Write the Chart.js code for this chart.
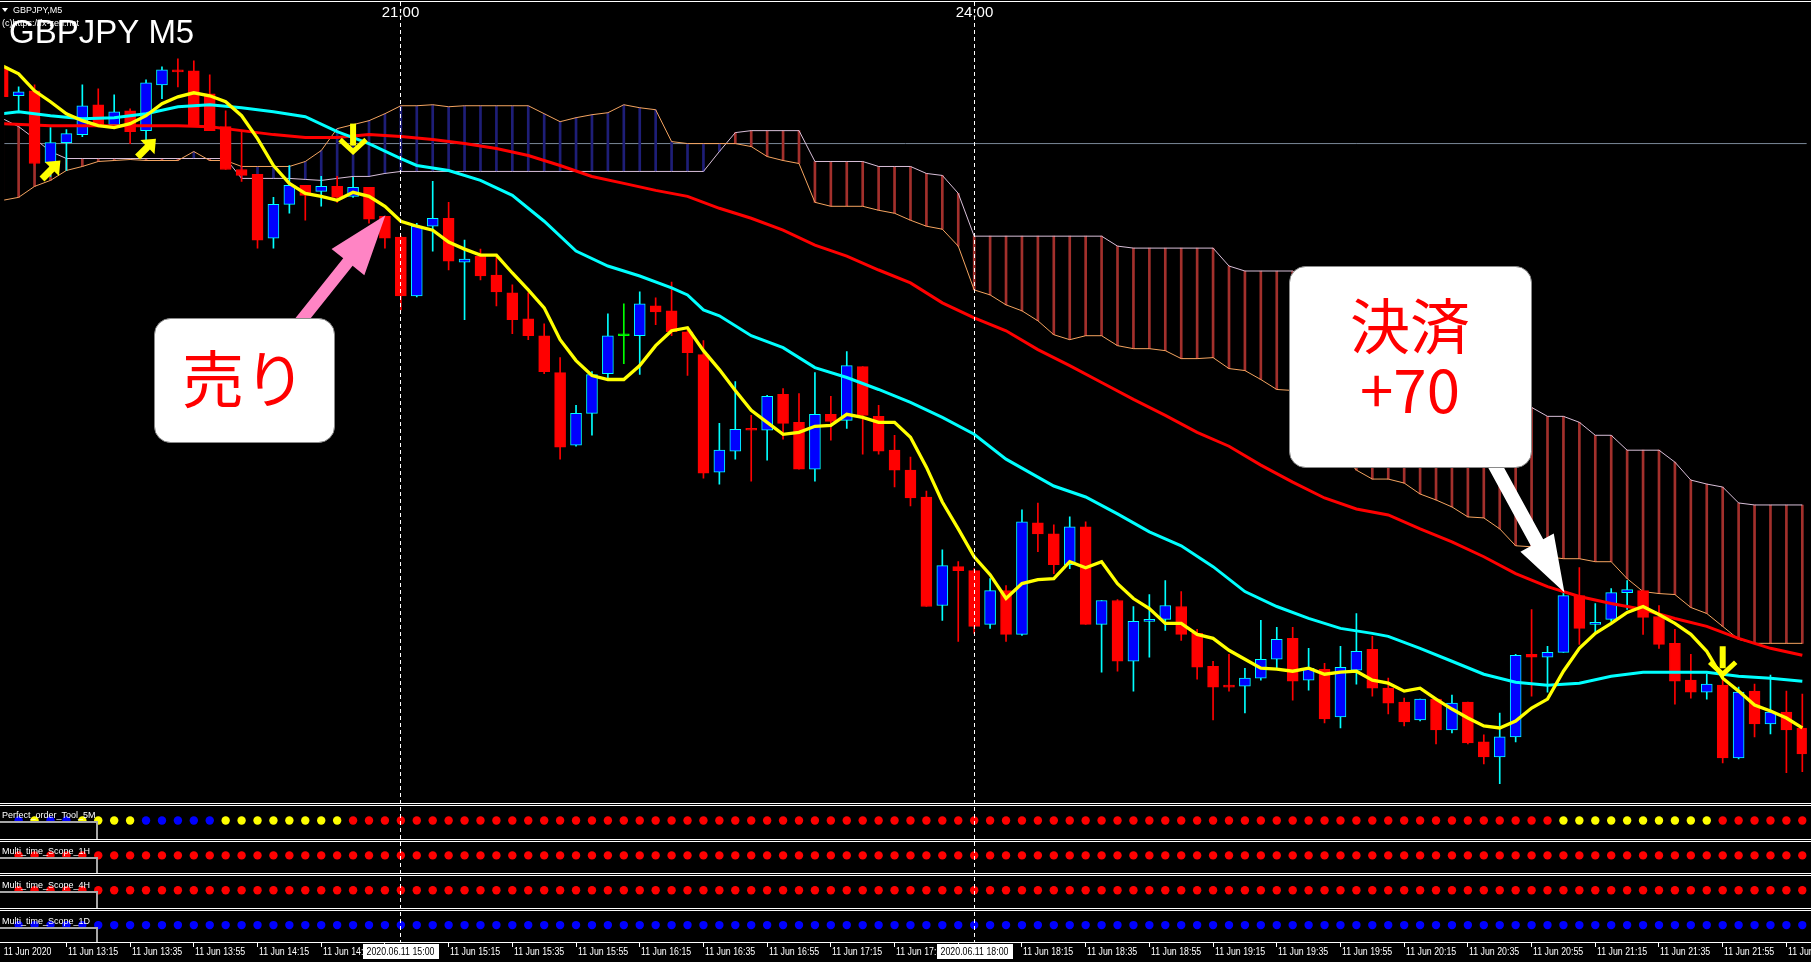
<!DOCTYPE html>
<html><head><meta charset="utf-8">
<script src="https://cdn.jsdelivr.net/npm/chart.js@4.4.1/dist/chart.umd.min.js"></script>
<style>html,body{margin:0;padding:0;background:#000;overflow:hidden}canvas{display:block}</style>
</head><body>
<canvas id="c" width="1811" height="962"></canvas>
<script>
// ---------- DATA (GBPJPY M5, bars indexed from -1 = 12:55) ----------
const FIRST_BAR = -1;
const opens = [136.874,136.816,136.826,136.682,136.722,136.738,136.798,136.758,136.786,136.746,
 136.838,136.868,136.866,136.820,136.754,136.668,136.658,136.530,136.598,136.636,
 136.624,136.634,136.614,136.632,136.574,136.532,136.414,136.554,136.570,136.482,
 136.494,136.456,136.420,136.368,136.334,136.260,136.114,136.178,136.258,136.334,
 136.334,136.394,136.384,136.342,136.296,136.060,136.102,136.146,136.144,136.216,
 136.160,136.066,136.176,136.164,136.272,136.172,136.104,136.064,136.010,135.792,
 135.870,135.862,135.754,135.822,135.734,135.958,135.936,135.874,135.950,135.754,
 135.802,135.680,135.760,135.764,135.790,135.736,135.670,135.630,135.630,135.646,
 135.684,135.726,135.642,135.664,135.568,135.662,135.704,135.626,135.598,135.562,
 135.604,135.542,135.598,135.518,135.488,135.528,135.694,135.688,135.698,135.812,
 135.754,135.764,135.818,135.822,135.770,135.716,135.642,135.618,135.632,135.486,
 135.620,135.554,135.578,135.546];
const highs = [136.880,136.834,136.838,136.752,136.748,136.838,136.830,136.818,136.790,136.848,
 136.874,136.890,136.886,136.858,136.786,136.746,136.658,136.612,136.676,136.636,
 136.654,136.654,136.652,136.632,136.574,136.534,136.560,136.644,136.602,136.526,
 136.508,136.494,136.436,136.420,136.358,136.290,136.194,136.262,136.378,136.398,
 136.422,136.410,136.442,136.350,136.324,136.158,136.242,136.174,136.214,136.228,
 136.218,136.260,136.212,136.302,136.272,136.194,136.134,136.090,136.022,135.904,
 135.880,135.866,135.846,135.832,135.984,135.998,135.954,135.970,135.960,135.802,
 135.804,135.790,135.814,135.842,135.820,135.744,135.680,135.694,135.666,135.762,
 135.748,135.748,135.706,135.676,135.710,135.776,135.730,135.646,135.606,135.604,
 135.606,135.612,135.598,135.532,135.576,135.694,135.784,135.710,135.820,135.868,
 135.796,135.826,135.842,135.822,135.792,135.744,135.694,135.654,135.642,135.628,
 135.634,135.652,135.620,135.614];
const lows = [136.808,136.786,136.676,136.654,136.666,136.734,136.754,136.754,136.720,136.726,
 136.810,136.834,136.756,136.746,136.668,136.644,136.510,136.510,136.580,136.566,
 136.594,136.602,136.612,136.560,136.510,136.386,136.412,136.504,136.466,136.366,
 136.446,136.394,136.338,136.326,136.258,136.086,136.112,136.134,136.248,136.278,
 136.256,136.356,136.334,136.254,136.048,136.036,136.086,136.042,136.084,136.126,
 136.066,136.042,136.124,136.148,136.096,136.096,136.030,135.992,135.790,135.762,
 135.720,135.736,135.746,135.720,135.732,135.900,135.856,135.866,135.754,135.658,
 135.660,135.620,135.688,135.742,135.722,135.644,135.562,135.620,135.576,135.642,
 135.666,135.602,135.622,135.556,135.546,135.634,135.610,135.574,135.550,135.560,
 135.514,135.536,135.514,135.474,135.434,135.518,135.610,135.618,135.698,135.714,
 135.736,135.760,135.784,135.734,135.706,135.594,135.606,135.604,135.476,135.484,
 135.528,135.534,135.456,135.458];
const closes = [136.814,136.824,136.680,136.722,136.740,136.796,136.756,136.784,136.744,136.842,
 136.868,136.864,136.756,136.746,136.668,136.656,136.526,136.598,136.636,136.616,
 136.634,136.612,136.632,136.568,136.530,136.414,136.554,136.570,136.484,136.488,
 136.454,136.422,136.366,136.334,136.262,136.110,136.178,136.256,136.334,136.334,
 136.398,136.382,136.342,136.300,136.058,136.104,136.146,136.144,136.212,136.158,
 136.066,136.176,136.162,136.274,136.174,136.102,136.064,136.008,135.790,135.872,
 135.862,135.750,135.822,135.734,135.960,135.936,135.874,135.950,135.754,135.802,
 135.680,135.760,135.761,135.792,135.734,135.668,135.628,135.628,135.646,135.684,
 135.724,135.640,135.666,135.564,135.668,135.700,135.626,135.596,135.558,135.604,
 135.542,135.596,135.516,135.488,135.528,135.692,135.688,135.698,135.812,135.746,
 135.758,135.818,135.824,135.768,135.714,135.640,135.618,135.634,135.486,135.618,
 135.554,135.578,135.542,135.494];

// fast MA (yellow), every bar
const fastMA = [136.876,136.860,136.826,136.804,136.780,136.766,136.756,136.752,136.760,136.776,
 136.800,136.814,136.822,136.816,136.804,136.776,136.730,136.676,136.640,136.620,
 136.614,136.606,136.622,136.614,136.594,136.564,136.554,136.546,136.522,136.508,
 136.496,136.496,136.460,136.426,136.390,136.326,136.284,136.254,136.246,136.246,
 136.274,136.314,136.344,136.350,136.304,136.266,136.224,136.184,136.160,136.136,
 136.140,136.152,136.154,136.176,136.170,136.160,136.160,136.130,136.070,136.000,
 135.946,135.890,135.854,135.806,135.836,135.844,135.846,135.880,135.868,135.880,
 135.836,135.806,135.786,135.756,135.756,135.734,135.726,135.702,135.684,135.666,
 135.664,135.660,135.666,135.654,135.658,135.660,135.642,135.636,135.620,135.626,
 135.604,135.584,135.566,135.550,135.546,135.560,135.586,135.604,135.660,135.706,
 135.736,135.756,135.778,135.790,135.774,135.756,135.734,135.700,135.646,135.620,
 135.592,135.580,135.566,135.546];

// middle MA (cyan), read at these bars
const midMABars = [-1,0,2,4,6,8,10,12,14,16,18,20,22,24,25,27,29,31,33,35,37,39,41,42,43,44,46,48,50,52,
 54,56,58,60,62,64,65,67,69,71,73,75,77,79,81,83,85,86,88,90,92,94,96,98,100,102,104,106,108,110,112];
const midMA = [136.780,136.784,136.776,136.770,136.772,136.780,136.794,136.798,136.792,136.784,
 136.774,136.744,136.720,136.690,136.676,136.666,136.646,136.616,136.564,136.504,
 136.474,136.454,136.430,136.416,136.386,136.374,136.334,136.310,136.270,136.250,
 136.226,136.200,136.170,136.136,136.086,136.050,136.032,136.010,135.976,135.940,
 135.912,135.870,135.820,135.790,135.766,135.746,135.736,135.730,135.706,135.680,
 135.654,135.638,135.632,135.636,135.650,135.658,135.658,135.658,135.650,135.646,135.640];

// slow MA (red), read at these bars
const slowMABars = [-1,2,6,10,12,14,16,18,20,22,24,26,28,30,32,34,36,38,40,42,44,46,48,50,52,54,56,58,60,62,
 64,66,68,70,72,74,76,78,80,82,84,86,88,90,92,94,96,98,100,102,104,106,108,110,112];
const slowMA = [136.760,136.756,136.756,136.756,136.754,136.746,136.738,136.732,136.732,136.738,
 136.734,136.728,136.720,136.710,136.696,136.676,136.654,136.640,136.626,136.614,
 136.590,136.570,136.546,136.516,136.494,136.466,136.440,136.400,136.370,136.344,
 136.306,136.274,136.240,136.206,136.174,136.140,136.112,136.074,136.040,136.008,
 135.986,135.974,135.946,135.920,135.890,135.856,135.830,135.810,135.796,135.784,
 135.766,135.750,135.726,135.706,135.692];

// Ichimoku cloud spans, every bar
const spanA = [136.606,136.612,136.634,136.646,136.666,136.674,136.684,136.686,136.688,136.686,
 136.686,136.686,136.704,136.686,136.686,136.674,136.674,136.674,136.674,136.684,
 136.706,136.750,136.758,136.766,136.780,136.796,136.796,136.798,136.794,136.796,
 136.796,136.796,136.796,136.796,136.780,136.764,136.772,136.778,136.782,136.798,
 136.792,136.788,136.724,136.720,136.720,136.720,136.720,136.714,136.694,136.686,
 136.680,136.602,136.594,136.594,136.594,136.586,136.580,136.566,136.554,136.548,
 136.514,136.426,136.416,136.396,136.384,136.364,136.336,136.326,136.334,136.334,
 136.314,136.308,136.308,136.304,136.288,136.288,136.290,136.268,136.264,136.246,
 136.226,136.224,136.180,136.140,136.100,136.064,136.046,136.046,136.038,136.016,
 136.004,135.990,135.970,135.968,135.946,135.912,135.910,135.890,135.886,135.886,
 135.880,135.880,135.846,135.820,135.816,135.814,135.788,135.776,135.750,135.724,
 135.716,135.716,135.716,135.716];
const spanB = [136.770,136.754,136.730,136.704,136.690,136.690,136.690,136.690,136.690,136.690,
 136.690,136.690,136.690,136.690,136.690,136.650,136.650,136.650,136.650,136.648,
 136.646,136.650,136.654,136.654,136.660,136.664,136.664,136.664,136.664,136.664,
 136.664,136.664,136.664,136.664,136.664,136.664,136.664,136.664,136.664,136.664,
 136.664,136.664,136.664,136.664,136.664,136.704,136.742,136.746,136.746,136.746,
 136.746,136.684,136.684,136.684,136.684,136.674,136.674,136.674,136.660,136.656,
 136.620,136.534,136.534,136.534,136.534,136.534,136.534,136.534,136.534,136.534,
 136.514,136.510,136.510,136.510,136.510,136.510,136.510,136.474,136.464,136.464,
 136.464,136.464,136.440,136.420,136.380,136.340,136.320,136.300,136.280,136.260,
 136.240,136.230,136.220,136.210,136.200,136.190,136.190,136.172,136.172,136.160,
 136.134,136.134,136.104,136.104,136.104,136.080,136.044,136.036,136.030,135.998,
 135.994,135.994,135.994,135.994];

const hLinePrice = 136.720;
const vLineBars = [24, 60];
const vLineTopLabels = ['21:00', '24:00'];
const vLineAxisLabels = ['2020.06.11 15:00', '2020.06.11 18:00'];

const buySignals = [{bar: 2, price: 136.666}, {bar: 8, price: 136.710}];
const sellSignals = [{bar: 21, price: 136.728}, {bar: 107, price: 135.678}];

const timeTickBars = [3,7,11,15,19,23,27,31,35,39,43,47,51,55,59,63,67,71,75,79,83,87,91,95,99,103,107,111];
const timeTickLabels = ['11 Jun 13:15','11 Jun 13:35','11 Jun 13:55','11 Jun 14:15','11 Jun 14:35','11 Jun 14:55',
 '11 Jun 15:15','11 Jun 15:35','11 Jun 15:55','11 Jun 16:15','11 Jun 16:35','11 Jun 16:55','11 Jun 17:15',
 '11 Jun 17:35','11 Jun 17:55','11 Jun 18:15','11 Jun 18:35','11 Jun 18:55','11 Jun 19:15','11 Jun 19:35',
 '11 Jun 19:55','11 Jun 20:15','11 Jun 20:35','11 Jun 20:55','11 Jun 21:15','11 Jun 21:35','11 Jun 21:55','11 Jun 22:15'];
const firstDateLabel = '11 Jun 2020';

// indicator panes: colour states per bar (bars 0..112), run-length as read
const paneNames = ['Perfect_order_Tool_5M','Multi_time_Scope_1H','Multi_time_Scope_4H','Multi_time_Scope_1D'];
const perfectOrderRuns = [['B',1],['Y',1],['B',2],['Y',4],['B',5],['Y',8],['R',76],['Y',10],['R',6]];
const scope1HRuns = [['R',113]];
const scope4HRuns = [['R',113]];
const scope1DRuns = [['B',113]];

// ---------- LAYOUT / STYLE ----------
const W = 1811, H = 962, PLOT_BOTTOM = 942;
const X_MIN = -14.5/16, X_MAX = (W - 14.5)/16;
const PRICE_MAX = 137.000, PRICE_MIN = 137.000 - 0.002*PLOT_BOTTOM;
const ROW_PX = [820, 855, 890, 925];
const IND_MIN = -ROW_PX[0]/35, IND_MAX = IND_MIN + PLOT_BOTTOM/35;
const DOT_COL = {R:'#ff0000', B:'#0000ff', Y:'#ffff00'};

const idx = k => k - FIRST_BAR;
const barsOf = arr => arr.map((_, i) => FIRST_BAR + i);
const bars = barsOf(opens);
const isBull = i => closes[i] > opens[i];
const isBear = i => closes[i] < opens[i];
const bodyFill = bars.map((_, i) => isBull(i) ? '#0000ff' : isBear(i) ? '#ff0000' : '#00ff00');
const bodyEdge = bars.map((_, i) => isBull(i) ? '#00ffff' : isBear(i) ? '#ff0000' : '#00ff00');

function expandRuns(runs) { const out = []; runs.forEach(([c, n]) => { for (let j = 0; j < n; j++) out.push(c); }); return out; }
const paneStates = [perfectOrderRuns, scope1HRuns, scope4HRuns, scope1DRuns].map(expandRuns);

const datasets = [];
datasets.push({type:'line', order: 30, data:[{x:X_MIN,y:hLinePrice},{x:X_MAX,y:hLinePrice}],
  borderColor:'#7a8898', borderWidth:1, pointRadius:0});
datasets.push({type:'bar', order: 25, grouped:false, barThickness:2,
  data: spanA.map((a, i) => ({x: FIRST_BAR + i, y: [a, spanB[i]]})),
  backgroundColor: spanA.map((a, i) => a > spanB[i] ? '#1e1e78' : '#a3302c'), borderWidth:0});
datasets.push({type:'line', order: 24, data: spanA.map((v, i) => ({x: FIRST_BAR + i, y: v})),
  borderColor:'#f4a460', borderWidth:1, pointRadius:0, tension:0});
datasets.push({type:'line', order: 24, data: spanB.map((v, i) => ({x: FIRST_BAR + i, y: v})),
  borderColor:'#d8bfd8', borderWidth:1, pointRadius:0, tension:0});
datasets.push({type:'bar', order: 12, grouped:false, barThickness:1,
  data: bars.map((k, i) => ({x:k, y:[lows[i], highs[i]]})),
  backgroundColor: bodyEdge, borderWidth:0});
datasets.push({type:'bar', order: 11, grouped:false, barThickness:11, minBarLength:2,
  data: bars.map((k, i) => ({x:k, y:[opens[i], closes[i]]})),
  backgroundColor: bodyFill, borderColor: bodyEdge, borderWidth:1, borderSkipped:false});
datasets.push({type:'line', order: 6, data: slowMABars.map((k, i) => ({x:k, y:slowMA[i]})),
  borderColor:'#ff0000', borderWidth:3, pointRadius:0, tension:0});
datasets.push({type:'line', order: 5, data: midMABars.map((k, i) => ({x:k, y:midMA[i]})),
  borderColor:'#00ffff', borderWidth:3, pointRadius:0, tension:0});
datasets.push({type:'line', order: 4, data: fastMA.map((v, i) => ({x: FIRST_BAR + i, y: v})),
  borderColor:'#ffff00', borderWidth:3.3, pointRadius:0, tension:0});
paneStates.forEach((st, row) => {
  datasets.push({type:'line', order: 1, yAxisID:'yInd', showLine:false,
    data: st.map((c, k) => ({x:k, y:row})),
    pointRadius:4.2, pointBorderWidth:0, pointBackgroundColor: st.map(c => DOT_COL[c])});
});

function txt(ctx, s, x, y, font, color, align, sx) {
  ctx.save(); ctx.font = font; ctx.fillStyle = color; ctx.textAlign = align || 'left';
  ctx.textBaseline = 'alphabetic'; ctx.translate(x, y); ctx.scale(sx || 1, 1); ctx.fillText(s, 0, 0); ctx.restore();
}
function arrow(ctx, sx, sy, tx, ty, headLen, headHalf, shaftHalf, color) {
  const dx = tx - sx, dy = ty - sy, L = Math.hypot(dx, dy), ux = dx/L, uy = dy/L, px = -uy, py = ux;
  const bx = tx - ux*headLen, by = ty - uy*headLen;
  ctx.beginPath();
  ctx.moveTo(sx + px*shaftHalf, sy + py*shaftHalf);
  ctx.lineTo(bx + px*shaftHalf, by + py*shaftHalf);
  ctx.lineTo(bx + px*headHalf, by + py*headHalf);
  ctx.lineTo(tx, ty);
  ctx.lineTo(bx - px*headHalf, by - py*headHalf);
  ctx.lineTo(bx - px*shaftHalf, by - py*shaftHalf);
  ctx.lineTo(sx - px*shaftHalf, sy - py*shaftHalf);
  ctx.closePath(); ctx.fillStyle = color; ctx.fill();
}
function roundBox(ctx, x, y, w, h, r) {
  ctx.beginPath(); ctx.moveTo(x + r, y); ctx.arcTo(x + w, y, x + w, y + h, r); ctx.arcTo(x + w, y + h, x, y + h, r);
  ctx.arcTo(x, y + h, x, y, r); ctx.arcTo(x, y, x + w, y, r); ctx.closePath();
  ctx.fillStyle = '#ffffff'; ctx.fill(); ctx.strokeStyle = '#8a8a8a'; ctx.lineWidth = 1; ctx.stroke();
}

const overlay = {
  id: 'overlay',
  beforeDraw(chart) { const c = chart.ctx; c.save(); c.fillStyle = '#000'; c.fillRect(0, 0, W, H); c.restore(); },
  afterDatasetsDraw(chart) {
    const ctx = chart.ctx, xs = chart.scales.x, ys = chart.scales.y;
    const px = k => xs.getPixelForValue(k), py = p => ys.getPixelForValue(p);
    ctx.save();
    // frame & separators
    ctx.fillStyle = '#ffffff';
    ctx.fillRect(0, 1, W, 1);
    [803, 805, 839, 841, 873, 875, 908, 910, 942].forEach(y => ctx.fillRect(0, y, W, 1));
    // vertical dashed lines
    ctx.strokeStyle = '#ffffff'; ctx.lineWidth = 1; ctx.setLineDash([4, 3]);
    vLineBars.forEach(k => { const x = Math.floor(px(k)) + 0.5; ctx.beginPath(); ctx.moveTo(x, 2); ctx.lineTo(x, 942); ctx.stroke(); });
    ctx.setLineDash([]);
    // pane label boxes
    const grayY = [821, 857, 891, 927], paneBottom = [839, 873, 908, 942];
    paneNames.forEach((name, i) => {
      ctx.fillStyle = '#000'; ctx.fillRect(0, grayY[i], 98, paneBottom[i] - grayY[i]);
      ctx.fillStyle = '#a8a8a8'; ctx.fillRect(0, grayY[i], 98, 2); ctx.fillRect(96, grayY[i], 2, paneBottom[i] - grayY[i]);
      txt(ctx, name, 2, grayY[i] - 3, '9px "Liberation Sans"', '#ffffff');
    });
    // time axis
    ctx.fillStyle = '#ffffff';
    timeTickBars.forEach((k, i) => {
      const x = Math.floor(px(k));
      ctx.fillRect(x, 943, 1, 4);
      txt(ctx, timeTickLabels[i], x + 2, 955, '10px "Liberation Sans"', '#ffffff', 'left', 0.88);
    });
    txt(ctx, firstDateLabel, px(FIRST_BAR) + 1, 955, '10px "Liberation Sans"', '#ffffff', 'left', 0.88);
    vLineBars.forEach((k, i) => {
      const x = Math.floor(px(k)) + 0.5;
      ctx.font = '10px "Liberation Sans"';
      const w = ctx.measureText(vLineAxisLabels[i]).width * 0.88 + 8;
      ctx.fillStyle = '#ffffff'; ctx.fillRect(Math.round(x - w/2), 944, Math.round(w), 15);
      txt(ctx, vLineAxisLabels[i], x, 955, '10px "Liberation Sans"', '#000000', 'center', 0.88);
      txt(ctx, vLineTopLabels[i], x, 17, '15px "Liberation Sans"', '#ffffff', 'center');
    });
    // top-left captions
    ctx.fillStyle = '#ffffff';
    ctx.beginPath(); ctx.moveTo(2, 8); ctx.lineTo(8, 8); ctx.lineTo(5, 12); ctx.closePath(); ctx.fill();
    txt(ctx, 'GBPJPY,M5', 13, 13, '9px "Liberation Sans"', '#ffffff');
    txt(ctx, '(c)https://fx-zen.net', 2, 26, '9px "Liberation Sans"', '#ffffff');
    txt(ctx, 'GBPJPY M5', 9, 43, '33px "Liberation Sans"', '#ffffff');
    // signal arrows
    ctx.fillStyle = '#ffff00';
    buySignals.forEach(s => {
      ctx.save(); ctx.translate(px(s.bar), py(s.price)); ctx.rotate(Math.PI/4);
      ctx.beginPath(); ctx.moveTo(0, -14); ctx.lineTo(10, -2); ctx.lineTo(3.5, -2); ctx.lineTo(3.5, 12);
      ctx.lineTo(-3.5, 12); ctx.lineTo(-3.5, -2); ctx.lineTo(-10, -2); ctx.closePath(); ctx.fill(); ctx.restore();
    });
    sellSignals.forEach(s => {
      const cx = px(s.bar), cy = py(s.price);
      ctx.fillStyle = '#ffff00'; ctx.fillRect(cx - 3, cy - 16, 6, 22);
      ctx.strokeStyle = '#ffff00'; ctx.lineWidth = 5; ctx.lineJoin = 'miter';
      ctx.beginPath(); ctx.moveTo(cx - 13, cy); ctx.lineTo(cx, cy + 12); ctx.lineTo(cx + 13, cy); ctx.stroke();
    });
    // callout arrows
    arrow(ctx, 300, 322, px(23) + 0.5, py(highs[idx(23)]) - 1, 60, 21, 6, '#ff84c4');
    arrow(ctx, 1493, 462, px(97) + 1, py(highs[idx(97)]) + 1, 57, 19, 7, '#ffffff');
    // callout boxes
    roundBox(ctx, 154.5, 318.5, 180, 124, 16);
    txt(ctx, '売り', 244, 403, '62px "Noto Sans CJK JP"', '#ff0000', 'center');
    roundBox(ctx, 1289.5, 266.5, 242, 201, 16);
    txt(ctx, '決済', 1410, 349, '60px "Noto Sans CJK JP"', '#ff0000', 'center');
    txt(ctx, '+70', 1410, 413, '60px "Noto Sans CJK JP"', '#ff0000', 'center');
    ctx.restore();
  }
};

new Chart(document.getElementById('c'), {
  type: 'bar',
  data: { datasets },
  options: {
    responsive: false, animation: false, devicePixelRatio: 1, events: [],
    layout: { padding: { left: 0, right: 0, top: 0, bottom: H - PLOT_BOTTOM } },
    plugins: { legend: { display: false }, tooltip: { enabled: false } },
    scales: {
      x: { type: 'linear', min: X_MIN, max: X_MAX, offset: false, display: false },
      y: { type: 'linear', min: PRICE_MIN, max: PRICE_MAX, beginAtZero: false, display: false },
      yInd: { type: 'linear', min: IND_MIN, max: IND_MAX, reverse: true, display: false }
    }
  },
  plugins: [overlay]
});
</script>
</body></html>
